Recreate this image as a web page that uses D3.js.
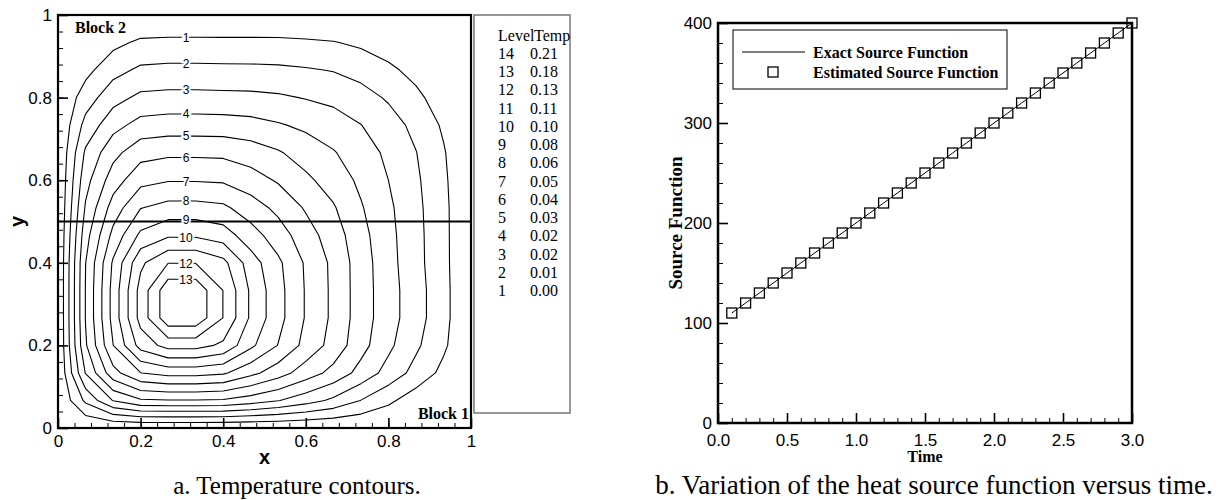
<!DOCTYPE html>
<html>
<head>
<meta charset="utf-8">
<script src="https://cdn.jsdelivr.net/npm/d3@7"></script>
<style>
	body{margin:0;background:#fff;}
	.tick text{font-family:"Liberation Sans",Arial,sans-serif;font-size:17px;fill:#000;}
	.tick line{stroke:#000;}
	.serif{font-family:"Liberation Serif","Times New Roman",serif;fill:#000;}
</style>
</head>
<body>
<script>
//wrap everything in a self-executing anonymous function to move to local scope
(function(){

	//contour levels and the temperature the legend gives for each
	var levelNums = [1, 2, 3, 4, 5, 6, 7, 8, 9, 10, 11, 12, 13, 14];
	var levelTemps = [0.00, 0.01, 0.02, 0.02, 0.03, 0.04, 0.05, 0.06, 0.08, 0.10, 0.11, 0.13, 0.18, 0.21];
	//levels that carry a number on the plot (11 has none)
	var labelledLevels = [1, 2, 3, 4, 5, 6, 7, 8, 9, 10, 12, 13];

	//contour level read at the nodes of a 16 x 16 grid, first row is y = 0, first column x = 0
	var levelGrid = [
		[0, 0, 0, 0, 0, 0, 0, 0, 0, 0, 0, 0, 0, 0, 0, 0],
		[0, 2.20, 4.05, 4.87, 4.95, 4.95, 4.89, 4.51, 4.04, 3.43, 2.80, 1.98, 1.21, 0.46, 0, 0],
		[0, 4.05, 6.64, 7.98, 8.35, 8.35, 8.14, 7.29, 6.44, 5.51, 4.69, 3.65, 2.63, 1.66, 0.73, 0],
		[0, 4.87, 7.98, 10.40, 11.37, 11.37, 10.80, 9.22, 7.96, 6.68, 5.63, 4.36, 3.22, 2.18, 1.18, 0],
		[0, 5.04, 8.35, 11.37, 13.70, 13.70, 11.98, 9.84, 8.34, 6.92, 5.79, 4.50, 3.41, 2.42, 1.32, 0],
		[0, 5.04, 8.35, 11.37, 13.70, 13.70, 11.98, 9.84, 8.34, 6.92, 5.79, 4.50, 3.41, 2.42, 1.32, 0],
		[0, 4.98, 8.14, 10.80, 11.97, 11.97, 11.30, 9.49, 8.19, 6.87, 5.77, 4.49, 3.35, 2.33, 1.28, 0],
		[0, 4.60, 7.29, 9.22, 9.85, 9.85, 9.49, 8.43, 7.48, 6.44, 5.50, 4.34, 3.29, 2.31, 1.27, 0],
		[0, 4.11, 6.44, 7.96, 8.35, 8.35, 8.19, 7.48, 6.74, 5.89, 5.10, 4.09, 3.19, 2.26, 1.26, 0],
		[0, 3.65, 5.51, 6.68, 6.93, 6.93, 6.87, 6.44, 5.89, 5.21, 4.55, 3.80, 3.00, 2.17, 1.19, 0],
		[0, 3.16, 4.69, 5.63, 5.80, 5.80, 5.77, 5.50, 5.10, 4.55, 4.07, 3.49, 2.79, 2.03, 1.09, 0],
		[0, 2.33, 3.65, 4.36, 4.47, 4.47, 4.45, 4.34, 4.09, 3.80, 3.49, 3.02, 2.44, 1.73, 0.86, 0],
		[0, 1.50, 2.63, 3.22, 3.30, 3.30, 3.27, 3.24, 3.14, 2.95, 2.74, 2.39, 1.88, 1.24, 0.48, 0],
		[0, 0.70, 1.66, 2.18, 2.25, 2.25, 2.23, 2.22, 2.18, 2.09, 1.95, 1.65, 1.21, 0.69, 0.04, 0],
		[0, 0, 0.73, 1.18, 1.24, 1.24, 1.23, 1.23, 1.22, 1.15, 1.05, 0.82, 0.49, 0.08, 0, 0],
		[0, 0, 0, 0, 0, 0, 0, 0, 0, 0, 0, 0, 0, 0, 0, 0]
	];

	//heat source function versus time
	var times = [0.1, 0.2, 0.3, 0.4, 0.5, 0.6, 0.7, 0.8, 0.9, 1.0, 1.1, 1.2, 1.3, 1.4, 1.5,
		1.6, 1.7, 1.8, 1.9, 2.0, 2.1, 2.2, 2.3, 2.4, 2.5, 2.6, 2.7, 2.8, 2.9, 3.0];
	var exactSource = [110, 120, 130, 140, 150, 160, 170, 180, 190, 200, 210, 220, 230, 240, 250,
		260, 270, 280, 290, 300, 310, 320, 330, 340, 350, 360, 370, 380, 390, 400];
	var estimatedSource = [110, 120, 130, 140, 150, 160, 170, 180, 190, 200, 210, 220, 230, 240, 250,
		260, 270, 280, 290, 300, 310, 320, 330, 340, 350, 360, 370, 380, 390, 400];

	//tick labels
	var contourTicks = [0, 0.2, 0.4, 0.6, 0.8, 1];
	var timeTicks = [0, 0.5, 1, 1.5, 2, 2.5, 3];
	var sourceTicks = [0, 100, 200, 300, 400];

	var width = 1221,
		height = 500;

	var svg = d3.select("body")
		.append("svg")
		.attr("width", width)
		.attr("height", height);

	setContours();
	setSource();

	//captions under both panels
	svg.append("text").attr("class", "serif")
		.attr("x", 297).attr("y", 494)
		.attr("text-anchor", "middle")
		.style("font-size", "25px")
		.text("a. Temperature contours.");
	svg.append("text").attr("class", "serif")
		.attr("x", 934).attr("y", 494)
		.attr("text-anchor", "middle")
		.style("font-size", "27px")
		.text("b. Variation of the heat source function versus time.");

	//inward ticks, majors with labels and minors without
	function drawAxis(g, axisFn, scale, majors, minors, fmt, pad){
		g.append("g")
			.call(axisFn(scale).tickValues(minors).tickSize(-5).tickFormat(""))
			.call(function(s){ s.select(".domain").remove(); })
			.selectAll("line").style("stroke-width", 1);
		g.append("g")
			.call(axisFn(scale).tickValues(majors).tickSize(-10).tickPadding(pad).tickFormat(fmt))
			.call(function(s){ s.select(".domain").remove(); })
			.selectAll("line").style("stroke-width", 1.6);
	};

	//panel a, temperature contours
	function setContours(){

		var x = d3.scaleLinear().domain([0, 1]).range([58, 471]),
			y = d3.scaleLinear().domain([0, 1]).range([428, 15]);

		var n = levelGrid[0].length,
			m = levelGrid.length;

		//grid index to page, a grid sample i sits at i + 0.5
		var gx = d3.scaleLinear().domain([0.5, n - 0.5]).range([x(0), x(1)]),
			gy = d3.scaleLinear().domain([0.5, m - 0.5]).range([y(0), y(1)]);

		var contours = d3.contours()
			.size([n, m])
			.thresholds(levelNums)(levelGrid.flat());

		var path = d3.geoPath(d3.geoTransform({
			point: function(px, py){ this.stream.point(gx(px), gy(py)); }
		}));

		var panel = svg.append("g").attr("class", "contourPanel");

		panel.selectAll(".isoline")
			.data(contours)
			.enter()
			.append("path")
			.attr("class", "isoline")
			.attr("d", path)
			.style("fill", "none")
			.style("stroke", "#000")
			.style("stroke-width", 1.1)
			.style("stroke-linejoin", "round");

		//block boundary
		panel.append("line")
			.attr("x1", x(0)).attr("x2", x(1))
			.attr("y1", y(0.5)).attr("y2", y(0.5))
			.style("stroke", "#000").style("stroke-width", 2);

		//number each contour where it crosses x = 0.31 on its upper side
		var target = gx.invert(x(0.31));
		labelledLevels.forEach(function(lev){
			var c = contours[lev - 1], best = null;
			c.coordinates.forEach(function(poly){
				poly.forEach(function(ring){
					for (var k = 0; k < ring.length - 1; k++){
						var a = ring[k], b = ring[k + 1];
						if (a[0] === b[0] || (a[0] - target) * (b[0] - target) > 0) continue;
						var f = (target - a[0]) / (b[0] - a[0]),
							yv = a[1] + f * (b[1] - a[1]);
						if (!best || yv > best.y) best = {y: yv, a: a, b: b};
					}
				});
			});
			if (!best) return;
			var ang = Math.atan2(gy(best.b[1]) - gy(best.a[1]), gx(best.b[0]) - gx(best.a[0])) * 180 / Math.PI;
			if (ang > 90) ang -= 180;
			if (ang < -90) ang += 180;
			panel.append("text")
				.attr("transform", "translate(" + gx(target) + "," + gy(best.y) + ") rotate(" + ang + ")")
				.attr("text-anchor", "middle")
				.attr("dy", "0.36em")
				.style("font-family", "'Liberation Sans', Arial, sans-serif")
				.style("font-size", "12px")
				.style("fill", "#000")
				.style("stroke", "#fff")
				.style("stroke-width", 4)
				.style("paint-order", "stroke")
				.text(lev);
		});

		//frame
		panel.append("rect")
			.attr("x", x(0)).attr("y", y(1))
			.attr("width", x(1) - x(0)).attr("height", y(0) - y(1))
			.style("fill", "none").style("stroke", "#000").style("stroke-width", 2.2);

		var minor = d3.range(0, 26).map(function(i){ return i * 0.04; });
		var fmt = function(d){ return String(d); };

		var xAxis = panel.append("g").attr("transform", "translate(0," + y(0) + ")");
		drawAxis(xAxis, d3.axisBottom, x, contourTicks, minor, fmt, 7);
		var yAxis = panel.append("g").attr("transform", "translate(" + x(0) + ",0)");
		drawAxis(yAxis, d3.axisLeft, y, contourTicks, minor, fmt, 6);

		panel.append("text")
			.attr("x", (x(0) + x(1)) / 2).attr("y", 464)
			.attr("text-anchor", "middle")
			.style("font-family", "'Liberation Sans', Arial, sans-serif")
			.style("font-size", "20px").style("font-weight", "bold")
			.text("x");
		panel.append("text")
			.attr("transform", "translate(24," + y(0.5) + ") rotate(-90)")
			.attr("text-anchor", "middle")
			.style("font-family", "'Liberation Sans', Arial, sans-serif")
			.style("font-size", "20px").style("font-weight", "bold")
			.text("y");

		panel.append("text").attr("class", "serif")
			.attr("x", 75).attr("y", 33)
			.style("font-size", "16px").style("font-weight", "bold")
			.text("Block 2");
		panel.append("text").attr("class", "serif")
			.attr("x", 469).attr("y", 419)
			.attr("text-anchor", "end")
			.style("font-size", "16px").style("font-weight", "bold")
			.text("Block 1");

		//level legend
		var legend = panel.append("g").attr("class", "levelLegend");
		legend.append("rect")
			.attr("x", 474).attr("y", 15)
			.attr("width", 96).attr("height", 398)
			.style("fill", "#fff").style("stroke", "#777").style("stroke-width", 1.5);
		legend.append("text").attr("class", "serif")
			.attr("x", 498).attr("y", 41).style("font-size", "16px").text("Level");
		legend.append("text").attr("class", "serif")
			.attr("x", 534).attr("y", 41).style("font-size", "16px").text("Temp");

		var rows = levelNums.slice().reverse();
		var rowY = d3.scalePoint().domain(rows).range([59, 296]);
		var rowsG = legend.selectAll(".levelRow")
			.data(rows)
			.enter()
			.append("g")
			.attr("class", "levelRow")
			.attr("transform", function(d){ return "translate(0," + rowY(d) + ")"; });
		rowsG.append("text").attr("class", "serif")
			.attr("x", 498).style("font-size", "16px")
			.text(function(d){ return d; });
		rowsG.append("text").attr("class", "serif")
			.attr("x", 530).style("font-size", "16px")
			.text(function(d){ return levelTemps[d - 1].toFixed(2); });
	};

	//panel b, source function
	function setSource(){

		var x = d3.scaleLinear().domain([0, 3]).range([718, 1132]),
			y = d3.scaleLinear().domain([0, 400]).range([423, 23]);

		var panel = svg.append("g").attr("class", "sourcePanel");

		var line = d3.line()
			.x(function(d, i){ return x(times[i]); })
			.y(function(d){ return y(d); });

		panel.append("path")
			.datum(exactSource)
			.attr("d", line)
			.style("fill", "none").style("stroke", "#000").style("stroke-width", 1);

		var sq = 10;
		panel.selectAll(".estimate")
			.data(estimatedSource)
			.enter()
			.append("rect")
			.attr("class", "estimate")
			.attr("x", function(d, i){ return x(times[i]) - sq / 2; })
			.attr("y", function(d){ return y(d) - sq / 2; })
			.attr("width", sq).attr("height", sq)
			.style("fill", "none").style("stroke", "#000").style("stroke-width", 1.3);

		panel.append("rect")
			.attr("x", x(0)).attr("y", y(400))
			.attr("width", x(3) - x(0)).attr("height", y(0) - y(400))
			.style("fill", "none").style("stroke", "#000").style("stroke-width", 2.5);

		var xAxis = panel.append("g").attr("transform", "translate(0," + y(0) + ")");
		drawAxis(xAxis, d3.axisBottom, x, timeTicks, x.ticks(30), d3.format(".1f"), 11);
		var yAxis = panel.append("g").attr("transform", "translate(" + x(0) + ",0)");
		drawAxis(yAxis, d3.axisLeft, y, sourceTicks, y.ticks(20), d3.format("d"), 6);

		panel.append("text").attr("class", "serif")
			.attr("x", (x(0) + x(3)) / 2).attr("y", 462)
			.attr("text-anchor", "middle")
			.style("font-size", "16px").style("font-weight", "bold")
			.text("Time");
		panel.append("text").attr("class", "serif")
			.attr("transform", "translate(682," + y(200) + ") rotate(-90)")
			.attr("text-anchor", "middle")
			.style("font-size", "19px").style("font-weight", "bold")
			.text("Source Function");

		//legend box
		var legend = panel.append("g").attr("class", "sourceLegend");
		legend.append("rect")
			.attr("x", 733).attr("y", 30)
			.attr("width", 274).attr("height", 59)
			.style("fill", "#fff").style("stroke", "#000").style("stroke-width", 1);
		legend.append("line")
			.attr("x1", 742).attr("x2", 805)
			.attr("y1", 52).attr("y2", 52)
			.style("stroke", "#000").style("stroke-width", 1);
		legend.append("rect")
			.attr("x", 773 - sq / 2).attr("y", 72 - sq / 2)
			.attr("width", sq).attr("height", sq)
			.style("fill", "none").style("stroke", "#000").style("stroke-width", 1.3);
		legend.append("text").attr("class", "serif")
			.attr("x", 813).attr("y", 58)
			.style("font-size", "16px").style("font-weight", "bold")
			.text("Exact Source Function");
		legend.append("text").attr("class", "serif")
			.attr("x", 813).attr("y", 78)
			.style("font-size", "16px").style("font-weight", "bold")
			.text("Estimated Source Function");
	};

})();
</script>
</body>
</html>
